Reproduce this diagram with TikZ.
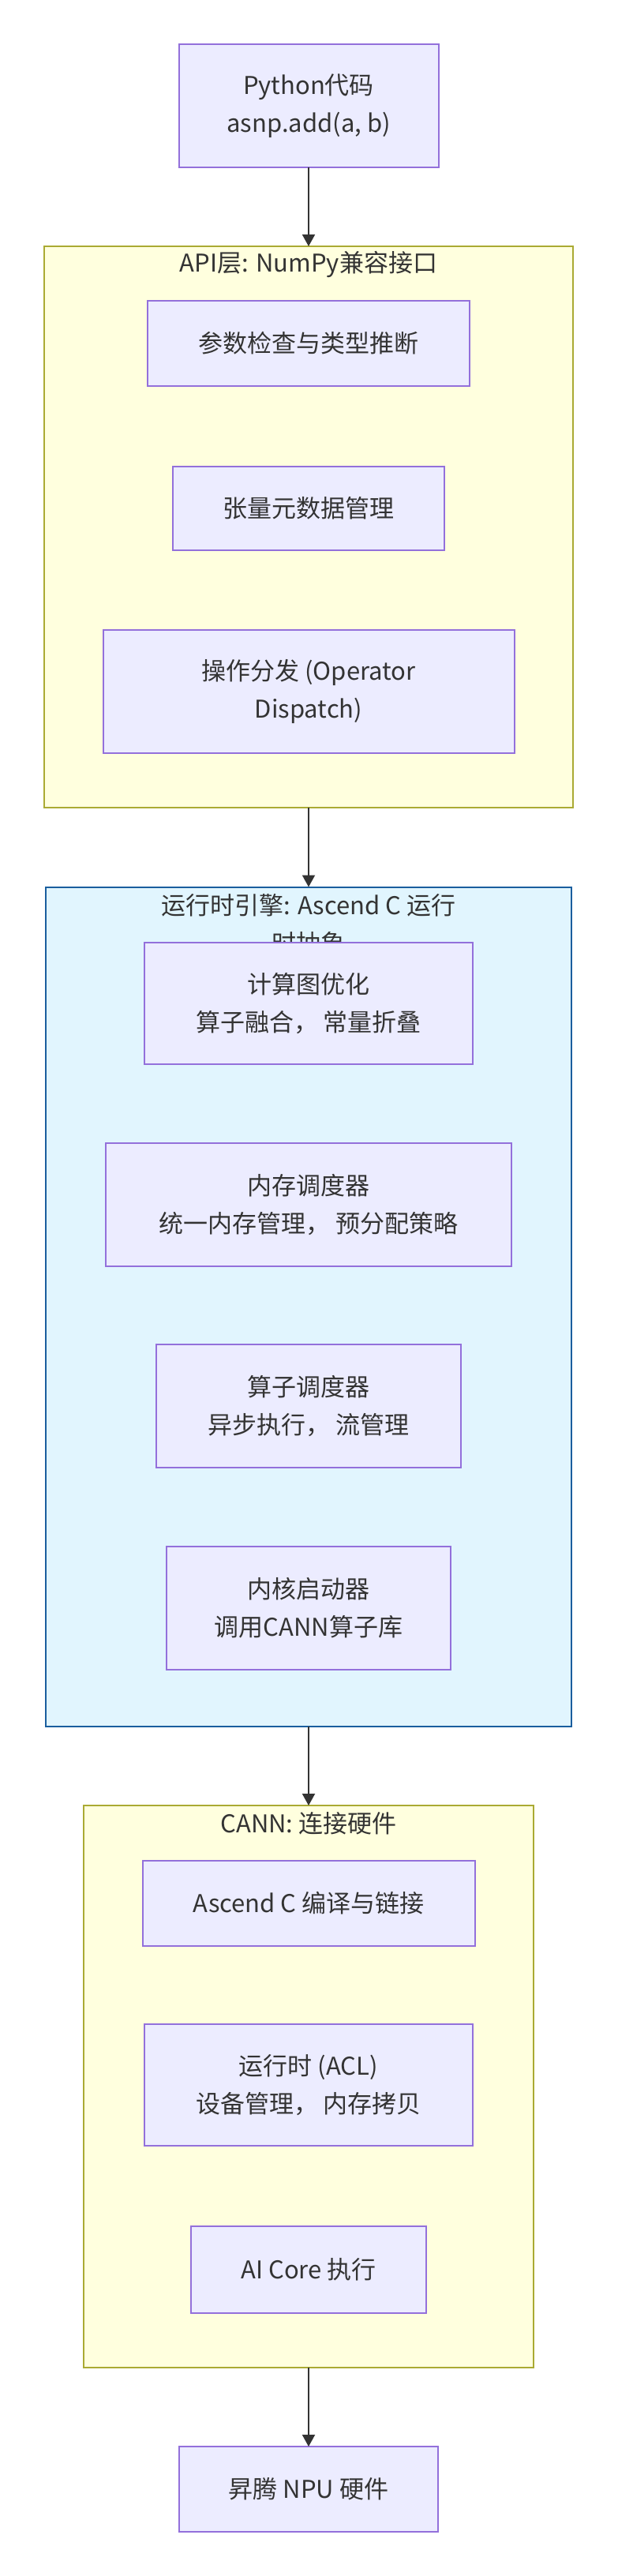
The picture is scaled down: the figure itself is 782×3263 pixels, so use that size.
\documentclass[tikz,border=0pt]{standalone}
\usepackage{fontspec}
\setmainfont{Noto Sans CJK SC}
\usetikzlibrary{arrows.meta}
\definecolor{nodefill}{HTML}{ECECFF}
\definecolor{nodestroke}{HTML}{9370DB}
\definecolor{yfill}{HTML}{FFFFDE}
\definecolor{ystroke}{HTML}{AAAA33}
\definecolor{bfill}{HTML}{E1F5FE}
\definecolor{bstroke}{HTML}{1A5E9E}
\definecolor{txt}{HTML}{333333}
\begin{document}
\begin{tikzpicture}[x=1pt,y=-1pt,
  every node/.style={font=\fontsize{31}{48}\selectfont, text=txt, inner sep=0pt, outer sep=0pt},
  box/.style={draw=nodestroke, fill=nodefill, line width=2pt, align=center},
  ygroup/.style={draw=ystroke, fill=yfill, line width=2pt},
  bgroup/.style={draw=bstroke, fill=bfill, line width=2pt},
  gtitle/.style={align=center},
  conn/.style={draw=txt, line width=2pt, -{Triangle[width=16pt,length=15pt]}}]
\useasboundingbox (0,0) rectangle (782,3263);
% Groups
\node[ygroup, minimum width=670pt, minimum height=711pt] (api) at (391,667.5) {};
\node[gtitle] (apit) at (391,335) {API层: NumPy兼容接口};
\node[bgroup, minimum width=666pt, minimum height=1063pt] (rt) at (391,1655) {};
\node[gtitle] (rtt) at (391,1171) {运行时引擎: Ascend C 运行\\时抽象};
\node[ygroup, minimum width=570pt, minimum height=712pt] (cann) at (391,2643) {};
\node[gtitle] (cannt) at (391,2310) {CANN: 连接硬件};
% Nodes
\node[box, minimum width=329pt, minimum height=156pt] (py) at (391,134) {Python代码\\asnp.add(a, b)};
\node[box, minimum width=408pt, minimum height=108pt] (chk) at (391,435) {参数检查与类型推断};
\node[box, minimum width=344pt, minimum height=106pt] (meta) at (391,644) {张量元数据管理};
\node[box, minimum width=521pt, minimum height=156pt] (disp) at (391,876) {操作分发 (Operator\\Dispatch)};
\node[box, minimum width=416pt, minimum height=154pt] (opt) at (391,1271) {计算图优化\\算子融合， 常量折叠};
\node[box, minimum width=514pt, minimum height=156pt] (mem) at (391,1526) {内存调度器\\统一内存管理， 预分配策略};
\node[box, minimum width=386pt, minimum height=156pt] (sch) at (391,1781) {算子调度器\\异步执行， 流管理};
\node[box, minimum width=360pt, minimum height=156pt] (ker) at (391,2037) {内核启动器\\调用CANN算子库};
\node[box, minimum width=421pt, minimum height=108pt] (comp) at (391,2411) {Ascend C 编译与链接};
\node[box, minimum width=416pt, minimum height=154pt] (acl) at (391,2641) {运行时 (ACL)\\设备管理， 内存拷贝};
\node[box, minimum width=298pt, minimum height=110pt] (aic) at (391,2875) {AI Core 执行};
\node[box, minimum width=328pt, minimum height=108pt] (npu) at (391,3153) {昇腾 NPU 硬件};
% Connectors
\draw[conn] (py.south) -- (api.north);
\draw[conn] (api.south) -- (rt.north);
\draw[conn] (rt.south) -- (cann.north);
\draw[conn] (cann.south) -- (npu.north);
\end{tikzpicture}
\end{document}
